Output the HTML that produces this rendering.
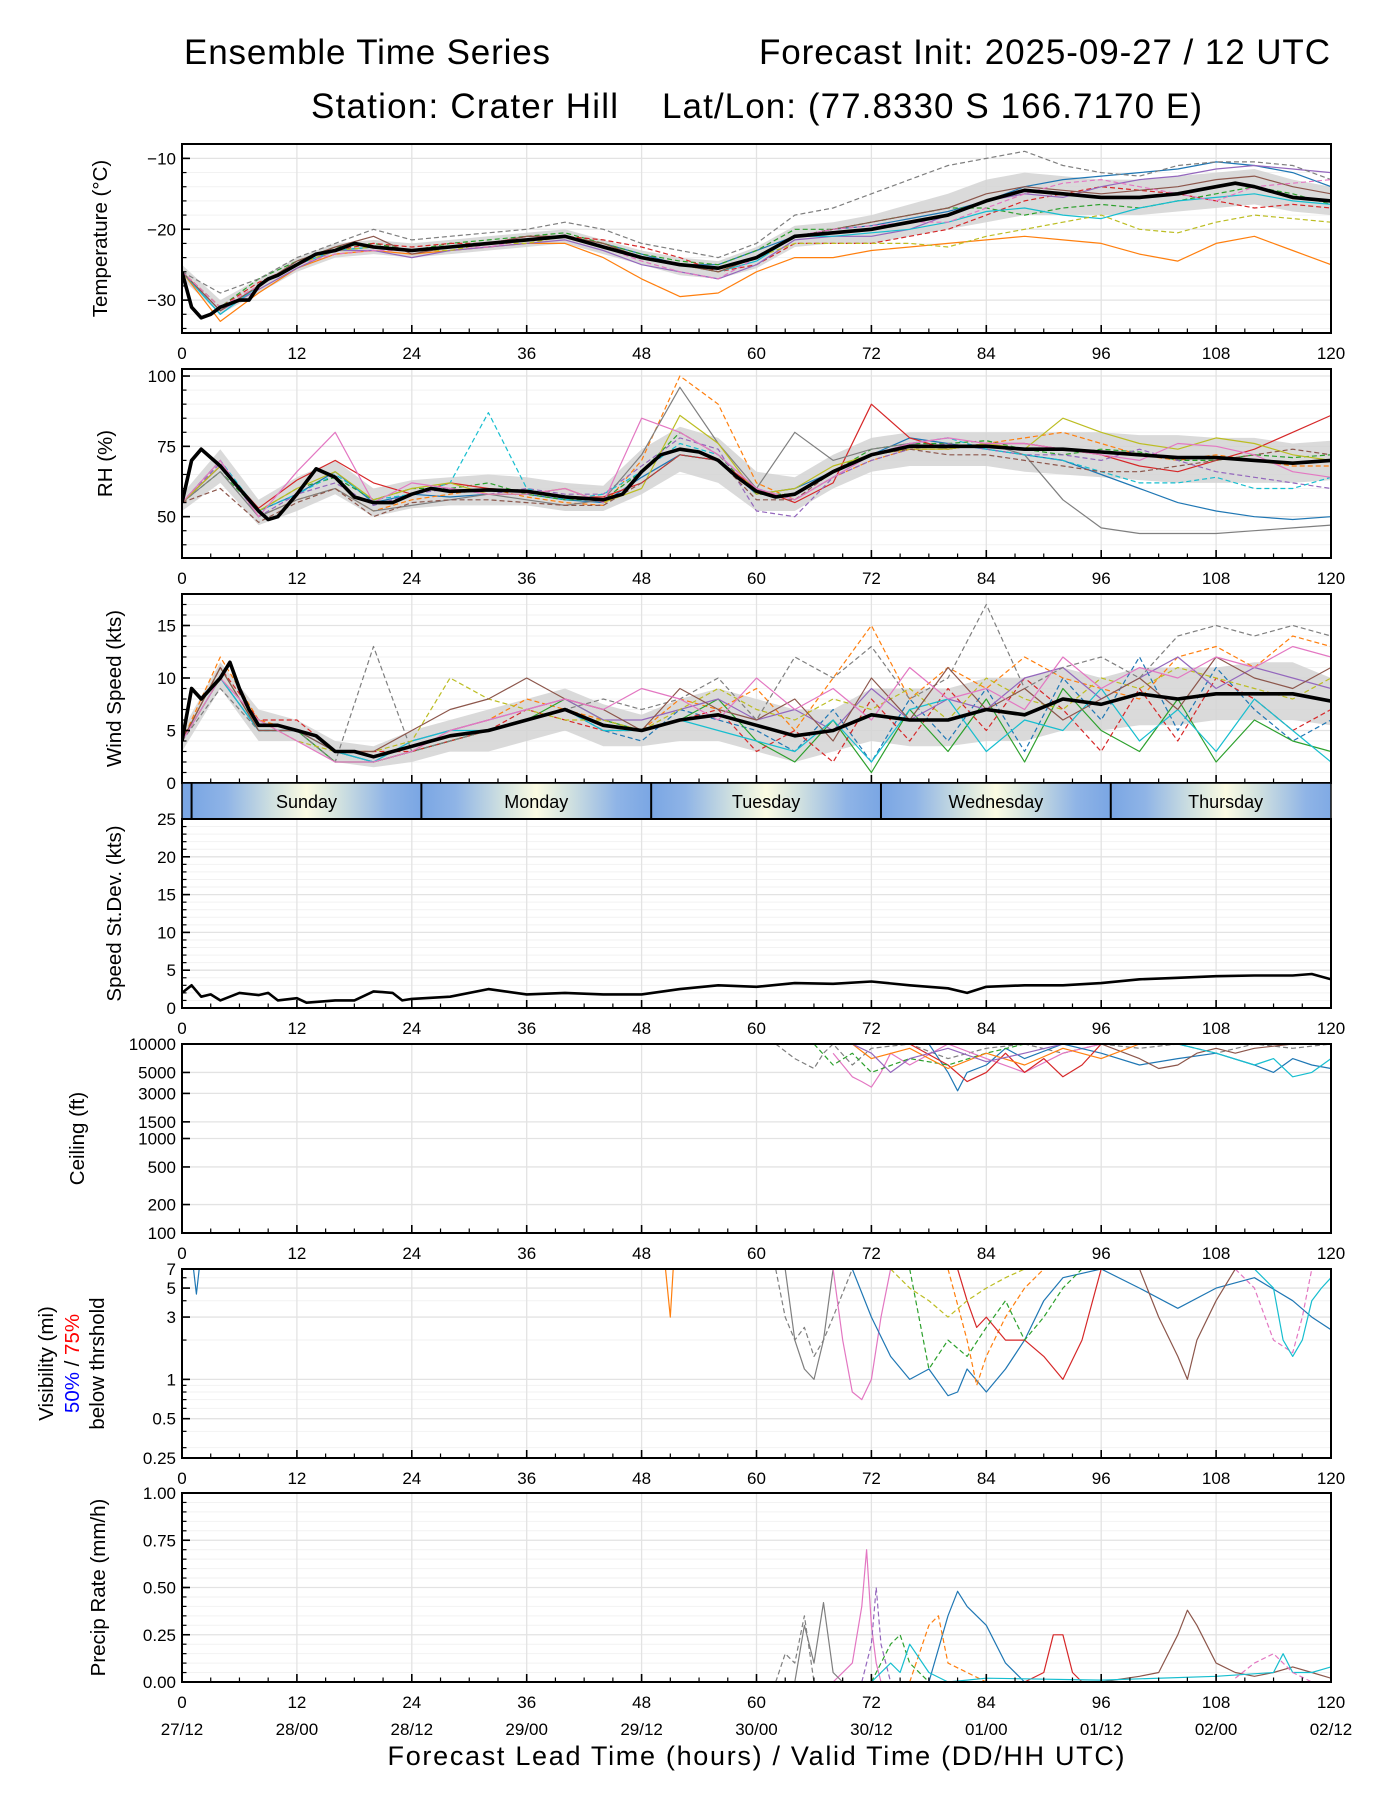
<!DOCTYPE html>
<html><head><meta charset="utf-8"><title>Ensemble Time Series</title>
<style>html,body{margin:0;padding:0;background:#fff}svg{display:block;font-family:"Liberation Sans","DejaVu Sans",sans-serif}</style>
</head><body>
<svg id="fig" xmlns="http://www.w3.org/2000/svg" width="1400" height="1800" viewBox="0 0 1400 1800">
<rect width="1400" height="1800" fill="#fff"/>
<text x="184" y="64" font-size="35" textLength="366">Ensemble Time Series</text>
<text x="759" y="64" font-size="35" textLength="571">Forecast Init: 2025-09-27 / 12 UTC</text>
<text x="311" y="118" font-size="35" textLength="307">Station: Crater Hill</text>
<text x="662" y="118" font-size="35" textLength="540">Lat/Lon: (77.8330 S 166.7170 E)</text>
<text x="756" y="1765" font-size="27" text-anchor="middle" textLength="737">Forecast Lead Time (hours) / Valid Time (DD/HH UTC)</text>
</svg>
<script>
// ---------- DATA ----------
const xTicks=[0,12,24,36,48,60,72,84,96,108,120];
const dateLabels=["27/12","28/00","28/12","29/00","29/12","30/00","30/12","01/00","01/12","02/00","02/12"];
const dayNames=["Sunday","Monday","Tuesday","Wednesday","Thursday"];
const dayStarts=[1,25,49,73,97];
const G4=[0,4,8,12,16,20,24,28,32,36,40,44,48,52,56,60,64,68,72,76,80,84,88,92,96,100,104,108,112,116,120];

const tempMeanHrs=[0,1,2,3,4,5,6,7,8,9,10,12,14,16,18,20,24,28,32,36,40,44,48,52,56,60,64,68,72,76,80,84,88,92,96,100,104,108,110,112,116,120];
const tempMean=[-26,-31,-32.5,-32,-31,-30.5,-30,-30,-28,-27,-26.5,-25,-23.5,-23,-22,-22.5,-23,-22.5,-22,-21.5,-21,-22.5,-24,-25,-25.5,-24,-21,-20.5,-20,-19,-18,-16,-14.5,-15,-15.5,-15.5,-15,-14,-13.5,-14,-15.5,-16];
const tempLo=[-27,-32,-29,-26,-24,-23.5,-24,-23.5,-23,-22.5,-22,-23.5,-25,-26.5,-27,-25.5,-22.5,-22,-22,-21,-20,-19,-18,-18,-18,-18,-17.5,-17,-16.5,-17.5,-18];
const tempHi=[-25,-30,-27,-24,-22,-21.5,-22,-21.5,-21,-20.5,-20,-21.5,-23,-24,-24.5,-22.5,-19.5,-19,-18,-16.5,-15,-13,-12,-12.5,-13,-13,-12.5,-12,-11.5,-13,-14];
const tempM1=[-26,-32,-28,-25,-23,-22.5,-23,-22.5,-22,-21.5,-21,-22,-23.5,-25,-25,-23,-21,-20,-19.5,-18.5,-17.5,-16,-14,-13,-12.5,-12,-11.5,-10.5,-11,-12,-14];
const tempM2=[-26,-33,-29,-25.5,-23.5,-23,-23.5,-23,-22.5,-22,-22,-24,-27,-29.5,-29,-26,-24,-24,-23,-22.5,-22,-21.5,-21,-21.5,-22,-23.5,-24.5,-22,-21,-23,-25];
const tempM3=[-26,-31,-27,-24.5,-22.5,-22,-23,-22,-21.5,-21,-20.5,-22,-23.5,-24.5,-25,-23,-20,-20,-19,-18,-17,-17,-18,-17,-16.5,-17,-16,-15,-14,-15,-16.5];
const tempM4=[-26,-31,-27.5,-25,-23,-22,-22.5,-22,-22,-21,-21,-21.5,-22.5,-24,-26,-25,-22,-22,-22,-21,-20,-18,-16,-15,-14,-14.5,-15,-16,-17,-16.5,-17];
const tempM5=[-26,-31.5,-28.5,-25.5,-23,-23,-24,-23,-22.5,-22,-21.5,-23,-25,-26,-27,-25,-21.5,-21,-21,-20,-18,-16,-15,-15.5,-14,-13,-12.5,-11.5,-11,-11.5,-12];
const tempM6=[-26,-29,-27,-24,-22,-20,-21.5,-21,-20.5,-20,-19,-20,-22,-23,-24,-22,-18,-17,-15,-13,-11,-10,-9,-11,-12,-12.5,-11,-10.5,-10.5,-11,-13];
const tempM7=[-26,-32,-28,-25,-23,-22.5,-23,-22.5,-22,-21.5,-21,-22.5,-24,-25,-26,-24.5,-21,-21,-20.5,-20,-19,-17.5,-17,-18,-18.5,-17,-16,-15.5,-15,-16,-16.5];
const tempM8=[-26,-31,-28,-25,-23,-22.5,-23,-23,-22,-22,-21,-22,-24,-25,-26,-24,-22,-22,-22,-22,-22.5,-21,-20,-19,-18,-20,-20.5,-19,-18,-18.5,-19];
const tempM9=[-26,-31.5,-28,-24.5,-22.5,-21,-23.5,-22.5,-22,-21,-21,-22,-24,-25,-26,-24,-21,-20,-19,-18,-17,-15,-14,-14.5,-15,-14.5,-14,-13,-12.5,-14,-15];
const tempM10=[-26,-31,-28,-25,-23.5,-23,-23,-22.5,-22.5,-21.5,-21,-22.5,-24.5,-26,-27,-24,-21,-20,-19.5,-19,-19,-17,-15,-13.5,-13,-14,-15,-16,-14,-13.5,-13];

const rhMeanHrs=[0,1,2,4,6,8,9,10,12,14,16,18,20,22,24,26,28,32,36,40,44,46,48,50,52,54,56,58,60,62,64,68,72,76,80,84,88,92,96,100,104,108,112,116,120];
const rhMean=[55,70,74,68,60,52,49,50,58,67,64,57,55,55,58,60,59,59.5,59,57,56,58,66,72,74,73,70,64,59,57,58,66,72,75,75,75,74,74,73,72,71,71,70,69,70];
const rhLo=[52,62,47,52,58,50,53,54,54,54,52,52,58,66,62,52,52,60,66,68,68,68,66,65,64,63,62,62,62,62,63];
const rhHi=[58,74,56,64,70,60,63,64,65,64,62,61,74,82,78,66,64,72,78,80,80,80,80,80,80,79,79,78,78,76,77];
const rhM1=[55,68,52,58,66,55,58,57,58,58,56,55,64,72,70,58,60,66,72,78,76,74,72,70,65,60,55,52,50,49,50];
const rhM2=[55,70,50,56,60,52,56,58,60,57,55,54,70,100,90,62,56,64,70,74,74,76,78,80,76,72,70,72,70,68,68];
const rhM3=[55,66,52,60,64,56,60,60,62,58,56,56,66,80,72,58,58,66,74,76,76,77,74,72,74,73,70,70,72,71,72];
const rhM4=[55,68,53,63,70,62,58,62,60,59,57,57,62,72,70,60,55,62,90,78,74,76,76,74,72,68,66,70,74,80,86];
const rhM5=[55,69,50,58,62,54,58,60,58,60,58,58,68,78,74,52,50,64,70,74,76,74,72,72,70,74,70,66,64,62,60];
const rhM6=[55,66,50,56,60,52,54,56,58,56,54,56,72,96,76,60,80,70,74,76,74,76,72,56,46,44,44,44,45,46,47];
const rhM7=[55,70,52,58,65,56,58,62,87,60,56,58,66,76,72,60,56,64,72,76,78,74,72,70,66,62,62,64,60,60,64];
const rhM8=[55,68,52,60,66,56,60,62,58,58,60,55,60,86,76,58,60,68,72,74,74,76,74,85,80,76,74,78,76,72,70];
const rhM9=[55,60,48,55,60,50,55,56,56,55,54,54,62,72,70,56,56,66,72,74,72,72,70,68,66,66,68,70,72,74,72];
const rhM10=[55,70,50,66,80,55,62,60,58,58,60,55,85,80,72,60,56,64,72,76,78,76,76,74,72,70,76,75,72,66,64];

const windMeanHrs=[0,1,2,3,4,5,6,7,8,10,12,14,16,18,20,22,24,26,28,32,36,40,44,48,52,56,60,64,68,72,76,80,84,88,92,96,100,104,108,112,116,120];
const windMean=[4,9,8,9,10,11.5,9,7,5.5,5.5,5,4.5,3,3,2.5,3,3.5,4,4.5,5,6,7,5.5,5,6,6.5,5.5,4.5,5,6.5,6,6,7,6.5,8,7.5,8.5,8,8.5,8.5,8.5,7.8];
const windLo=[3,9,4,4,2,1.5,2,3,3,4,5,3.5,3.5,4,4,3,2,3,4,3.5,3.5,4,4,5,5,5.5,5.5,6,6,6,5.5];
const windHi=[5,11.5,7,6,4,3.5,5,6,7,8,9,7.5,6.5,8,9,8,7,7,9,9,9,10,10,11,10,11,11,11,11.5,11.5,10];
const windM1=[4,10,5,5,3,2,3,4,5,6,7,5,4,7,6,5,3,7,2,8,4,9,3,10,6,12,5,11,7,4,6];
const windM2=[4,12,6,5,3,2,3,5,6,8,7,6,5,8,7,9,5,10,15,8,11,9,12,10,9,8,12,13,11,14,13];
const windM3=[4,11,5,5,2,2,3,4,5,6,8,6,5,6,8,4,2,6,1,7,3,8,2,9,5,3,8,2,6,4,3];
const windM4=[4,11,6,6,3,3,3,4,5,7,6,5,5,6,7,3,5,2,8,4,9,5,10,7,3,9,4,10,8,5,7];
const windM5=[4,10,5,5,3,2,4,5,6,7,8,6,6,7,8,6,7,5,9,6,8,7,10,11,8,10,12,9,11,10,9];
const windM6=[4,9,5,5,2,13,3,4,5,6,7,8,7,8,10,6,12,10,13,8,10,17,9,11,12,10,14,15,14,15,14];
const windM7=[4,10,5,5,3,2,4,5,5,6,7,5,5,6,5,4,3,6,2,7,8,3,6,5,9,4,7,3,8,5,2];
const windM8=[4,10,6,4,3,3,4,10,8,7,6,6,5,7,9,7,6,8,7,9,6,10,8,7,10,9,11,10,9,8,10];
const windM9=[4,11,5,5,3,3,5,7,8,10,8,7,5,9,7,6,8,4,10,6,11,7,9,6,8,10,7,12,10,9,11];
const windM10=[4,10,6,4,2,2,3,5,6,7,8,7,9,8,6,10,7,9,6,11,8,9,7,12,9,11,10,12,11,13,12];

const sdHrs=[0,1,2,3,4,6,8,9,10,12,13,16,18,20,22,23,24,28,32,36,40,44,48,52,56,60,64,68,72,76,80,82,84,88,92,96,100,104,108,112,116,118,120];
const sdVals=[2,3,1.5,1.8,1,2,1.7,2,1,1.3,0.7,1,1,2.2,2,1,1.2,1.5,2.5,1.8,2,1.8,1.8,2.5,3,2.8,3.3,3.2,3.5,3,2.6,2,2.8,3,3,3.3,3.8,4,4.2,4.3,4.3,4.5,3.8];

const ceilH1=[62,64,66,67,68,70,72,76,80,84,88,92,96,100,104,108,112,116,120], ceilV1=[10000,7000,5500,8000,10000,6000,9000,10000,7000,9000,10000,8000,10000,9000,10000,8000,10000,9000,10000];
const ceilH2=[68,70,71,72,73,74,76,80,84,88,92,96,100], ceilV2=[8000,4500,4000,3500,5000,8000,6000,10000,7000,5000,8000,10000,10000];
const ceilH3=[78,80,81,82,84,86,88,92,96,100,104,108,112,114,116,118,120], ceilV3=[10000,5000,3200,5000,6000,9000,7000,10000,8000,6000,7000,8000,6000,5000,7000,6000,5500];
const ceilH4=[76,80,82,84,86,88,90,92,94,96,100], ceilV4=[10000,6000,4000,5000,8000,5000,7000,4500,6000,10000,10000];
const ceilH5=[96,100,102,104,106,108,110,112,116,120], ceilV5=[10000,7000,5500,6000,8000,9000,8000,9000,10000,10000];
const ceilH6=[104,108,112,114,116,118,120], ceilV6=[10000,8000,6000,7000,4500,5000,7000];
const ceilH7=[66,68,70,72,76,80,84,88], ceilV7=[10000,6000,8000,5000,7000,6000,8000,10000];
const ceilH8=[70,72,76,80,84,88,92,96,100], ceilV8=[10000,7000,9000,5500,8000,6000,9000,7000,10000];
const ceilH9=[70,72,74,76,80,84,88,92], ceilV9=[10000,8000,5000,7000,9000,6500,8000,10000];

const visH0=[1.2,1.5,1.8], visV0=[7,4.5,7];
const visH0b=[50.5,51,51.3], visV0b=[7,3,7];
const visH1=[62,63,64,65,66,67,68,70], visV1=[7,3,2,2.5,1.5,2,3,7];
const visH1b=[63,64,65,66,67,68], visV1b=[7,2,1.2,1,2,7];
const visH2=[68,69,70,71,72,73,74], visV2=[7,2,0.8,0.7,1,3,7];
const visH3=[70,72,74,76,78,80,81,82,84,86,88,90,92,96,100,104,108,112,116,118,120], visV3=[7,3,1.5,1,1.2,0.75,0.8,1.2,0.8,1.2,2,4,6,7,5,3.5,5,6,4,3,2.4];
const visH4=[80,82,83,84,86,88,90], visV4=[7,2,0.9,1.5,3,5,7];
const visH5=[81,82,83,84,86,88,90,92,94,96], visV5=[7,4,2.5,3,2,2,1.5,1,2,7];
const visH6=[76,78,80,82,84,86,88,90,92,94], visV6=[7,1.2,2,1.5,2.5,4,2,3,5,7];
const visH7=[100,102,104,105,106,108,110], visV7=[7,3,1.5,1,2,4,7];
const visH8=[110,112,114,116,117,118], visV8=[7,5,2,1.6,3,7];
const visH9=[112,114,115,116,117,118,119,120], visV9=[7,5,2,1.5,2,4,5,6];
const visH10=[74,76,78,80,82,84,86,88], visV10=[7,5,4,3,4,5,6,7];

const prH1=[68,70,71,71.5,72,72.5,73,74], prV1=[0,0.1,0.4,0.7,0.3,0.1,0,0];
const prH2=[71,72,72.5,73,74], prV2=[0,0.2,0.5,0.2,0];
const prH3=[78,80,81,82,84,86,88], prV3=[0,0.35,0.48,0.4,0.3,0.1,0];
const prH4=[64,65,66,67,68,69], prV4=[0,0.3,0.1,0.42,0.05,0];
const prH5=[62,63,64,65,66], prV5=[0,0.15,0.1,0.35,0];
const prH6=[88,90,91,92,93,94], prV6=[0,0.05,0.25,0.25,0.05,0];
const prH7=[96,100,102,104,105,106,108,110,112,114,116,118,120], prV7=[0,0.03,0.05,0.25,0.38,0.3,0.1,0.05,0.03,0.05,0.08,0.05,0.02];
const prH8=[76,78,79,80,82,84], prV8=[0,0.3,0.35,0.1,0.05,0];
const prH9=[72,74,75,76,78], prV9=[0,0.2,0.25,0.1,0];
const prH10=[72,74,75,76,78,80,84,96,108,114,115,116,118,120], prV10=[0,0.1,0.05,0.2,0.05,0,0.02,0.01,0.03,0.05,0.15,0.05,0.05,0.08];
const prH11=[110,112,114,116,118], prV11=[0.02,0.1,0.15,0.05,0];

// ---------- RENDER ----------
const NS="http://www.w3.org/2000/svg";
const svg=document.getElementById('fig');
const X0=182,X1=1331,PH=189;
const C=["#1f77b4","#ff7f0e","#2ca02c","#d62728","#9467bd","#7f7f7f","#17becf","#bcbd22","#8c564b","#e377c2"];
const DASH=[null,null,"5,3","5,3",null,"5,3",null,"5,3",null,"5,3"];
function xs(h){return X0+(h/120)*(X1-X0);}
function mk(tag,attrs,parent){const e=document.createElementNS(NS,tag);for(const k in attrs)e.setAttribute(k,attrs[k]);(parent||svg).appendChild(e);return e;}

function makePanel(name,top,scale,lo,hi,majors,minors,labels,noXLabels){
  const g=mk('g',{});
  
  
  const isLog=scale==='log';
  const ys=v=>{const a=isLog?Math.log10(lo):lo,b=isLog?Math.log10(hi):hi,t=isLog?Math.log10(v):v;return top+PH-(t-a)/(b-a)*PH;};
  minors.forEach(v=>{mk('line',{x1:X0,x2:X1,y1:ys(v),y2:ys(v),stroke:'#f2f2f2','stroke-width':1},g);});
  majors.forEach(v=>{mk('line',{x1:X0,x2:X1,y1:ys(v),y2:ys(v),stroke:'#e3e3e3','stroke-width':1.3},g);});
  xTicks.forEach(h=>{mk('line',{x1:xs(h),x2:xs(h),y1:top,y2:top+PH,stroke:'#e3e3e3','stroke-width':1.3},g);});
  const cid='clip-'+name;
  const cp=mk('clipPath',{id:cid},g);mk('rect',{x:X0,y:top,width:X1-X0,height:PH},cp);
  const plot=mk('g',{'clip-path':'url(#'+cid+')'},g);
  for(let h=0;h<=120;h+=3){const maj=h%12===0;mk('line',{x1:xs(h),x2:xs(h),y1:top+PH,y2:top+PH-(maj?8:4.5),stroke:'#000','stroke-width':maj?1.6:1.2},g);}
  majors.forEach((v,i)=>{mk('line',{x1:X0,x2:X0+8,y1:ys(v),y2:ys(v),stroke:'#000','stroke-width':1.6},g);
    const t=mk('text',{x:X0-6,y:ys(v)+6,'font-size':17,'text-anchor':'end'},g);t.textContent=labels[i];
    
    });
  minors.forEach(v=>{mk('line',{x1:X0,x2:X0+4.5,y1:ys(v),y2:ys(v),stroke:'#000','stroke-width':1.2},g);});
  if(!noXLabels)xTicks.forEach(h=>{const t=mk('text',{x:xs(h),y:top+PH+26,'font-size':17,'text-anchor':'middle'},g);t.textContent=h;
    
    });
  const fr=mk('rect',{x:X0,y:top,width:X1-X0,height:PH,fill:'none',stroke:'#000','stroke-width':2},g);
  
  
  return {g,plot,ys,top};
}
function path(P,hrs,vals,color,dash,w,nm){
  const d=hrs.map((h,i)=>(i?'L':'M')+xs(h).toFixed(1)+','+P.ys(vals[i]).toFixed(1)).join('');
  const p=mk('path',{d:d,fill:'none',stroke:color,'stroke-width':w,'stroke-linejoin':'round'},P.plot);
  if(dash)p.setAttribute('stroke-dasharray',dash);
  
  
  return p;
}
function band(P,hrs,lo,hi,nm){
  let d=hrs.map((h,i)=>(i?'L':'M')+xs(h).toFixed(1)+','+P.ys(hi[i]).toFixed(1)).join('');
  for(let i=hrs.length-1;i>=0;i--)d+='L'+xs(hrs[i]).toFixed(1)+','+P.ys(lo[i]).toFixed(1);
  const p=mk('path',{d:d+'Z',fill:'#d4d4d4','fill-opacity':0.85,stroke:'none'},P.plot);
  
  
}
function ylabel(txt,x,top,nm){
  const t=mk('text',{x:x,y:top+PH/2,'font-size':20.5,'text-anchor':'middle',transform:'rotate(-90 '+x+' '+(top+PH/2)+')'});
  t.textContent=txt;
  
  
}
function range(a,b,s){const r=[];for(let v=a;v<=b+1e-9;v+=s)r.push(+v.toFixed(3));return r;}

// Temperature
const PT=makePanel('temperature',144,'lin',-34.64,-7.97,[-30,-20,-10],range(-34,-8,2),["\u221230","\u221220","\u221210"]);
band(PT,G4,tempLo,tempHi,'temperature-spread-band');
[tempM1,tempM2,tempM3,tempM4,tempM5,tempM6,tempM7,tempM8,tempM9,tempM10].forEach((m,i)=>path(PT,G4,m,C[i],DASH[i],1.2,'temperature-member'));
path(PT,tempMeanHrs,tempMean,'#000',null,3.6,'temperature-ensemble-mean');
ylabel('Temperature (\u00b0C)',107,144,'temperature-y-axis-title');

// RH
const PR=makePanel('rh',369,'lin',35.3,102.5,[50,75,100],range(40,100,5),["50","75","100"]);
band(PR,G4,rhLo,rhHi,'rh-spread-band');
[rhM1,rhM2,rhM3,rhM4,rhM5,rhM6,rhM7,rhM8,rhM9,rhM10].forEach((m,i)=>path(PR,G4,m,C[i],DASH[(i+1)%10],1.2,'rh-member'));
path(PR,rhMeanHrs,rhMean,'#000',null,3.6,'rh-ensemble-mean');
ylabel('RH (%)',112,369,'rh-y-axis-title');

// Wind
const PW=makePanel('wind',594,'lin',0,18,[0,5,10,15],range(0,18,1),["0","5","10","15"],true);
band(PW,G4,windLo,windHi,'wind-spread-band');
[windM1,windM2,windM3,windM4,windM5,windM6,windM7,windM8,windM9,windM10].forEach((m,i)=>path(PW,G4,m,C[i],DASH[(i+2)%10],1.2,'wind-member'));
path(PW,windMeanHrs,windMean,'#000',null,3.6,'wind-ensemble-mean');
ylabel('Wind Speed (kts)',121,594,'wind-y-axis-title');

// Day bar
(function(){
  const y=783,h=36;
  const defs=mk('defs',{});
  const gr=mk('linearGradient',{id:'dayGrad',x1:0,x2:1,y1:0,y2:0},defs);
  [[0,'#7aa6e4'],[0.15,'#8fb4e6'],[0.35,'#cfe0e0'],[0.5,'#fbfbe2'],[0.65,'#cfe0e0'],[0.85,'#8fb4e6'],[1,'#7aa6e4']].forEach(s=>mk('stop',{offset:s[0],'stop-color':s[1]},gr));
  const g=mk('g',{});
  
  
  const cp=mk('clipPath',{id:'clip-day'},g);mk('rect',{x:X0,y:y,width:X1-X0,height:h},cp);
  const cg=mk('g',{'clip-path':'url(#clip-day)'},g);
  mk('rect',{x:X0,y:y,width:xs(1)-X0,height:h,fill:'#7aa6e4'},cg);
  dayStarts.forEach((s,i)=>{
    mk('rect',{x:xs(s),y:y,width:xs(s+24)-xs(s),height:h,fill:'url(#dayGrad)'},cg);
    mk('line',{x1:xs(s),x2:xs(s),y1:y,y2:y+h,stroke:'#000','stroke-width':2},g);
    const t=mk('text',{x:xs(s+12),y:y+25,'font-size':18,'text-anchor':'middle'},g);t.textContent=dayNames[i];
    
    
  });
  mk('rect',{x:X0,y:y,width:X1-X0,height:h,fill:'none',stroke:'#000','stroke-width':1.5},g);
})();

// StDev
const PS=makePanel('stdev',819,'lin',0,25,[0,5,10,15,20,25],range(0,25,1),["0","5","10","15","20","25"]);
path(PS,sdHrs,sdVals,'#000',null,2.6,'speed-stdev-line');
ylabel('Speed St.Dev. (kts)',121,819,'stdev-y-axis-title');

// Ceiling
const PC=makePanel('ceiling',1044,'log',100,10000,[100,200,500,1000,1500,3000,5000,10000],[],["100","200","500","1000","1500","3000","5000","10000"]);
[[ceilH1,ceilV1],[ceilH2,ceilV2],[ceilH3,ceilV3],[ceilH4,ceilV4],[ceilH5,ceilV5],[ceilH6,ceilV6],[ceilH7,ceilV7],[ceilH8,ceilV8],[ceilH9,ceilV9]].forEach((m,i)=>{
  const ci=[5,9,0,3,8,6,2,1,4][i];path(PC,m[0],m[1],C[ci],i===0||i===6?"5,3":null,1.2,'ceiling-member');});
ylabel('Ceiling (ft)',84,1044,'ceiling-y-axis-title');

// Visibility
const PV=makePanel('visibility',1269,'log',0.25,7,[0.25,0.5,1,3,5,7],[0.3,0.4,0.6,0.7,0.8,0.9,2,4,6],["0.25","0.5","1","3","5","7"]);
[[visH0,visV0,0,null],[visH0b,visV0b,1,null],[visH1,visV1,5,"5,3"],[visH1b,visV1b,5,null],[visH2,visV2,9,null],[visH3,visV3,0,null],[visH4,visV4,1,"5,3"],[visH5,visV5,3,null],[visH6,visV6,2,"5,3"],[visH7,visV7,8,null],[visH8,visV8,9,"5,3"],[visH9,visV9,6,null],[visH10,visV10,7,"5,3"]].forEach(m=>path(PV,m[0],m[1],C[m[2]],m[3],1.2,'visibility-member'));
(function(){
  const cy=1269+PH/2;
  [[53,'Visibility (mi)'],[104,'below thrshold']].forEach(a=>{const t=mk('text',{x:a[0],y:cy,'font-size':20.5,'text-anchor':'middle',transform:'rotate(-90 '+a[0]+' '+cy+')'});t.textContent=a[1];
    
    });
  const t=mk('text',{x:79,y:cy,'font-size':20.5,'text-anchor':'middle',transform:'rotate(-90 79 '+cy+')'});
  
  
  const s1=mk('tspan',{fill:'#0000ff'},t);s1.textContent='50%';
  const s2=mk('tspan',{fill:'#000'},t);s2.textContent=' / ';
  const s3=mk('tspan',{fill:'#ff0000'},t);s3.textContent='75%';
})();

// Precip
const PP=makePanel('precip',1493,'lin',0,1,[0,0.25,0.5,0.75,1],range(0,1,0.05),["0.00","0.25","0.50","0.75","1.00"]);
[[prH1,prV1,9,null],[prH2,prV2,4,"5,3"],[prH3,prV3,0,null],[prH4,prV4,5,null],[prH5,prV5,5,"5,3"],[prH6,prV6,3,null],[prH7,prV7,8,null],[prH8,prV8,1,"5,3"],[prH9,prV9,2,"5,3"],[prH10,prV10,6,null],[prH11,prV11,9,"5,3"]].forEach(m=>path(PP,m[0],m[1],C[m[2]],m[3],1.2,'precip-member'));
ylabel('Precip Rate (mm/h)',105,1493,'precip-y-axis-title');
xTicks.forEach((h,i)=>{const t=mk('text',{x:xs(h),y:1735,'font-size':17,'text-anchor':'middle'});t.textContent=dateLabels[i];
  
  });
</script>
</body></html>
